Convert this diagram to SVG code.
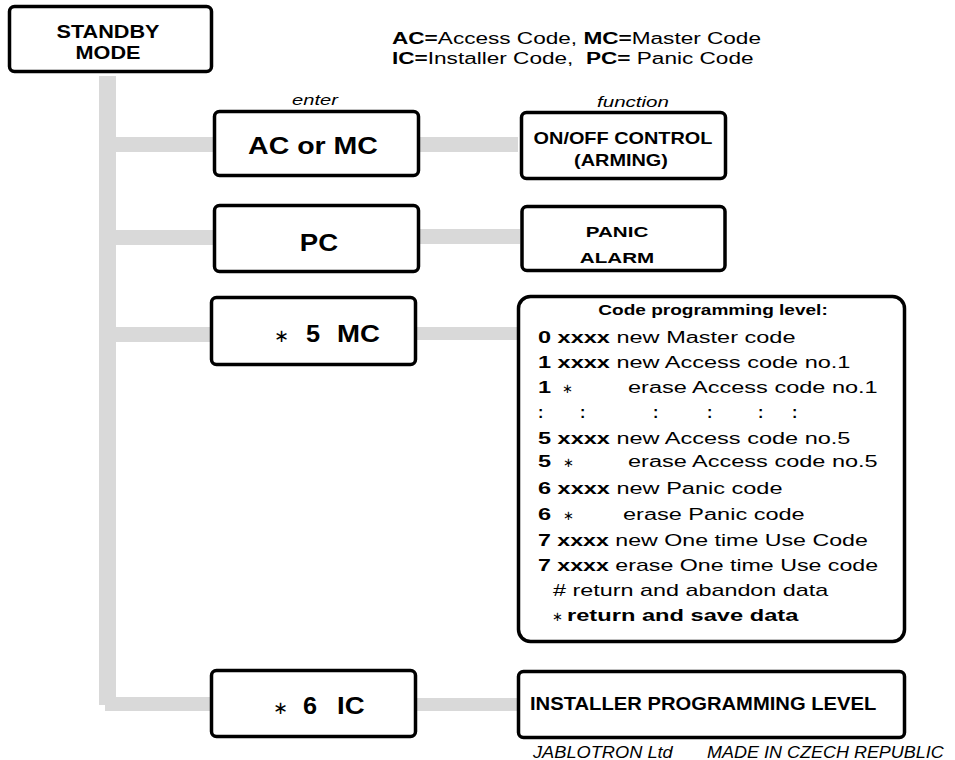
<svg xmlns="http://www.w3.org/2000/svg" width="955" height="760" viewBox="0 0 955 760">
<style>
text{font-family:"Liberation Sans",Arial,sans-serif;fill:#000}
.b{font-weight:bold}
.i{font-style:italic}
.n{font-weight:normal}
.ast{font-family:"DejaVu Sans",sans-serif;font-weight:normal}
.m{text-anchor:middle}
.box{fill:#fff;stroke:#000;stroke-width:3.5}
.bar{fill:#d9d9d9}
.row{font-size:16px}
</style>
<rect width="955" height="760" fill="#fff"/>
<g id="connectors">
<rect class="bar" x="99" y="76" width="17" height="629"/>
<rect class="bar" x="116" y="137" width="97" height="15"/>
<rect class="bar" x="420" y="137" width="98" height="15"/>
<rect class="bar" x="116" y="230" width="97" height="15"/>
<rect class="bar" x="420" y="229" width="100" height="15"/>
<rect class="bar" x="116" y="327" width="94" height="15"/>
<rect class="bar" x="417" y="327" width="100" height="13"/>
<rect class="bar" x="105" y="697" width="105" height="14"/>
<rect class="bar" x="417" y="698" width="100" height="13"/>
</g>
<g id="legend">
<text font-size="15.8" transform="translate(392 44) scale(1.43 1)"><tspan class="b">AC=</tspan>Access Code, <tspan class="b">MC=</tspan>Master Code</text>
<text font-size="15.8" xml:space="preserve" transform="translate(392 64) scale(1.43 1)"><tspan class="b">IC=</tspan>Installer Code,  <tspan class="b">PC=</tspan> Panic Code</text>
<text class="i m" font-size="15" transform="translate(315 105) scale(1.34 1)">enter</text>
<text class="i m" font-size="15" transform="translate(633 107) scale(1.37 1)">function</text>
</g>
<g id="standby">
<rect class="box" x="9.5" y="6.5" width="202" height="65" rx="5"/>
<text class="b m" font-size="18.5" transform="translate(108 38) scale(1.17 1)">STANDBY</text>
<text class="b m" font-size="18.5" transform="translate(108 59) scale(1.17 1)">MODE</text>
</g>
<g id="ac-or-mc">
<rect class="box" x="214.5" y="111.5" width="204" height="64" rx="5"/>
<text class="b m" font-size="23" transform="translate(313 154) scale(1.24 1)">AC or MC</text>
</g>
<g id="on-off">
<rect class="box" x="521.5" y="112.5" width="204" height="66" rx="5"/>
<text class="b m" font-size="16.3" transform="translate(623 144) scale(1.22 1)">ON/OFF CONTROL</text>
<text class="b m" font-size="16.3" transform="translate(621 166) scale(1.22 1)">(ARMING)</text>
</g>
<g id="pc">
<rect class="box" x="214.5" y="205.5" width="204" height="66" rx="5"/>
<text class="b m" font-size="23" transform="translate(319 251) scale(1.2 1)">PC</text>
</g>
<g id="panic">
<rect class="box" x="522" y="206.5" width="203" height="64" rx="5"/>
<text class="b m" font-size="15.5" transform="translate(617 237) scale(1.33 1)">PANIC</text>
<text class="b m" font-size="15.5" transform="translate(617 263) scale(1.33 1)">ALARM</text>
</g>
<g id="star5mc">
<rect class="box" x="211.5" y="297.5" width="204" height="67" rx="5"/>
<text class="ast" font-size="18" x="274" y="342">∗</text>
<text class="b" font-size="23" transform="translate(306 342) scale(1.1 1)">5</text>
<text class="b" font-size="23" transform="translate(337 342) scale(1.2 1)">MC</text>
</g>
<g id="code-programming">
<rect class="box" x="518.5" y="296.5" width="386" height="345" rx="12"/>
<text class="b m" font-size="14" transform="translate(713 315) scale(1.36 1)">Code programming level:</text>
<text class="row" transform="translate(538 343) scale(1.47 1)"><tspan class="b">0 xxxx</tspan> new Master code</text>
<text class="row" transform="translate(538 368) scale(1.47 1)"><tspan class="b">1 xxxx</tspan> new Access code no.1</text>
<text class="row b" transform="translate(538 393) scale(1.47 1)">1</text>
<text class="ast" font-size="13" x="562" y="393">∗</text>
<text class="row" transform="translate(628 393) scale(1.47 1)">erase Access code no.1</text>
<text class="row b" x="538 580 653 707 758 792" y="418">::::::</text>
<text class="row" transform="translate(538 444) scale(1.47 1)"><tspan class="b">5 xxxx</tspan> new Access code no.5</text>
<text class="row b" transform="translate(538 467) scale(1.47 1)">5</text>
<text class="ast" font-size="13" x="563" y="467">∗</text>
<text class="row" transform="translate(628 467) scale(1.47 1)">erase Access code no.5</text>
<text class="row" transform="translate(538 494) scale(1.47 1)"><tspan class="b">6 xxxx</tspan> new Panic code</text>
<text class="row b" transform="translate(538 520) scale(1.47 1)">6</text>
<text class="ast" font-size="13" x="563" y="520">∗</text>
<text class="row" transform="translate(623 520) scale(1.47 1)">erase Panic code</text>
<text class="row" transform="translate(538 546) scale(1.45 1)"><tspan class="b">7 xxxx</tspan> new One time Use Code</text>
<text class="row" transform="translate(538 571) scale(1.45 1)"><tspan class="b">7 xxxx</tspan> erase One time Use code</text>
<text class="row" transform="translate(553 596) scale(1.46 1)"># return and abandon data</text>
<text class="ast" font-size="13" x="552" y="621">∗</text>
<text class="row b" transform="translate(567 621) scale(1.48 1)">return and save data</text>
</g>
<g id="star6ic">
<rect class="box" x="211.5" y="670.5" width="204" height="66" rx="5"/>
<text class="ast" font-size="18" x="273" y="714">∗</text>
<text class="b" font-size="23" transform="translate(303 714) scale(1.1 1)">6</text>
<text class="b" font-size="23" transform="translate(337 714) scale(1.2 1)">IC</text>
</g>
<g id="installer">
<rect class="box" x="518.5" y="671.5" width="386" height="66" rx="5"/>
<text class="b" font-size="17.5" transform="translate(530 710) scale(1.155 1)">INSTALLER PROGRAMMING LEVEL</text>
</g>
<g id="footer">
<text class="i" font-size="16" transform="translate(533 758) scale(1.14 1)">JABLOTRON Ltd</text>
<text class="i" font-size="16" transform="translate(707 758) scale(1.125 1)">MADE IN CZECH REPUBLIC</text>
</g>
</svg>
